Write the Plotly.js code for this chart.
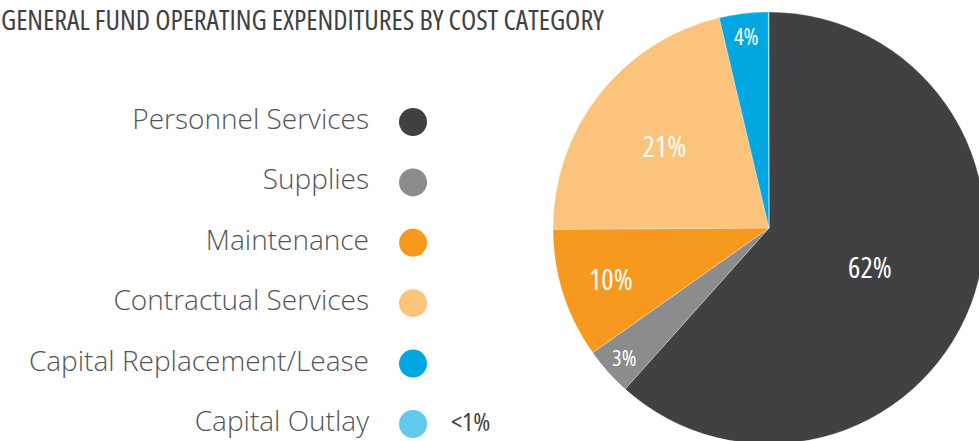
<!DOCTYPE html>
<html>
<head>
<meta charset="utf-8">
<script src="https://cdn.plot.ly/plotly-3.0.1.min.js"></script>
<style>
html,body{margin:0;padding:0;overflow:hidden;width:979px;height:441px;background:#fff;}
#chart{position:absolute;left:0;top:-20px;width:1000px;height:470px;}
#chart .slicetext, #chart .annotation-text, #chart .note text { font-stretch: 75% !important; }
</style>
</head>
<body>
<div id="chart"></div>
<script>
// ---- data ----
const categories = ["Personnel Services","Supplies","Maintenance","Contractual Services","Capital Replacement/Lease","Capital Outlay"];
const shares = [61.6, 3.6, 9.7, 21.4, 3.65, 0.05];
const sliceLabels = ["62%","3%","10%","21%","4%",""];
const legendNotes = ["","","","","","<1%"];
const colors = ["#414042","#8c8c8c","#f7991f","#fbc37b","#00a7e1","#62c8ec"];
const titleText = "GENERAL FUND OPERATING EXPENDITURES BY COST CATEGORY";

const condensed = "'Open Sans', sans-serif";
const lightFont = "'Open Sans', Lato, sans-serif";

const W = 1000, H = 470;
const cx = 769, cy = 248, r = 216;

const pie = {
  type: 'pie',
  values: shares,
  labels: categories,
  text: sliceLabels,
  textinfo: 'text',
  textposition: 'inside',
  insidetextorientation: 'horizontal',
  textfont: {family: condensed, size: 29, color: '#ffffff', weight: 500},
  marker: {colors: colors, line: {color: 'rgba(255,255,255,0.45)', width: 0.6}},
  sort: false,
  direction: 'clockwise',
  rotation: 0,
  showlegend: false,
  hoverinfo: 'label+percent',
  domain: {x: [(cx - r) / W, (cx + r) / W], y: [(H - cy - r) / H, (H - cy + r) / H]}
};

const legendText = {
  type: 'scatter', mode: 'text',
  x: categories.map(() => 369), y: categories,
  text: categories,
  textposition: 'middle left',
  textfont: {family: lightFont, size: 28, color: '#555557', weight: 300},
  showlegend: false, hoverinfo: 'skip', cliponaxis: false
};
const legendDots = {
  type: 'scatter', mode: 'markers',
  x: categories.map(() => 413), y: categories,
  marker: {size: 28, color: colors, line: {width: 0}},
  showlegend: false, hoverinfo: 'skip', cliponaxis: false
};
const legendNote = {
  type: 'scatter', mode: 'text',
  x: categories.map(() => 451), y: categories,
  text: legendNotes,
  textposition: 'middle right',
  textfont: {family: condensed, size: 26, color: '#414042', weight: 500},
  showlegend: false, hoverinfo: 'skip', cliponaxis: false
};

const spacing = 60.4, firstY = 142;
const yTop = -firstY / spacing, yBottom = yTop + H / spacing;

const layout = {
  width: W, height: H,
  margin: {l: 0, r: 0, t: 0, b: 0, pad: 0},
  paper_bgcolor: '#ffffff', plot_bgcolor: 'rgba(0,0,0,0)',
  xaxis: {range: [0, W], visible: false, fixedrange: true},
  yaxis: {type: 'category', categoryorder: 'array', categoryarray: categories,
          range: [yBottom, yTop], visible: false, fixedrange: true},
  annotations: [{
    text: titleText, xref: 'paper', yref: 'paper', x: 0, y: (H - 19) / H,
    xanchor: 'left', yanchor: 'top', align: 'left', showarrow: false, borderpad: 0,
    font: {family: condensed, size: 28, color: '#414042', weight: 500}
  }]
};

Plotly.newPlot('chart', [pie, legendText, legendDots, legendNote], layout, {displayModeBar: false, staticPlot: true})
  .then(gd => {
    const traces = gd.querySelectorAll('.scatterlayer .trace');
    if (traces[2]) traces[2].classList.add('note');
  });
</script>
</body>
</html>
